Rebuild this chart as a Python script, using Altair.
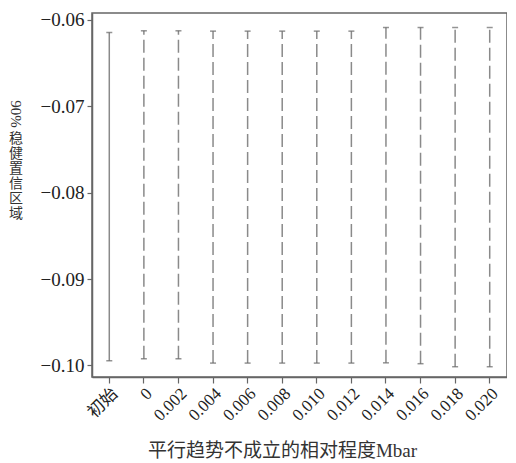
import altair as alt
import pandas as pd

categories = ["初始", "0", "0.002", "0.004", "0.006", "0.008", "0.010",
              "0.012", "0.014", "0.016", "0.018", "0.020"]
upper = [-0.06146, -0.06126, -0.06126, -0.0613, -0.0613, -0.0613, -0.0613,
         -0.0613, -0.06088, -0.06088, -0.06088, -0.06088]
lower = [-0.09946, -0.09923, -0.09923, -0.09973, -0.09973, -0.09973, -0.09973,
         -0.09973, -0.0997, -0.0998, -0.10015, -0.10015]
styles = ["solid"] + ["dashed"] * 11
y_ticks = [-0.06, -0.07, -0.08, -0.09, -0.10]
y_title_rot = "90%"
y_title_chars = ["稳", "健", "置", "信", "区", "域"]
x_title = "平行趋势不成立的相对程度Mbar"

df = pd.DataFrame({"cat": categories, "lo": lower, "hi": upper, "style": styles})

SERIF = "Liberation Serif"
FONT = "Liberation Serif, Noto Sans CJK SC"

x_enc = alt.X(
    "cat:N",
    sort=categories,
    scale=alt.Scale(paddingInner=0, paddingOuter=0),
    axis=alt.Axis(
        title=x_title,
        labelAngle=-45,
        labelAlign="right",
        labelBaseline="top",
        labelPadding=2,
        labelFont=FONT,
        labelFontSize=17,
        labelColor="#222",
        tickSize=6,
        tickColor="#666",
        tickWidth=1.2,
        domainColor="#666",
        domainWidth=1.5,
        titleFont=FONT,
        titleFontSize=19,
        titleFontWeight="normal",
        titleColor="#333",
        titleX=190,
        titleY=79,
        titleBaseline="alphabetic",
        titleAlign="center",
    ),
)

y_scale = alt.Scale(domain=[-0.10134, -0.0592], nice=False, zero=False)
y_axis = alt.Axis(
    title=None,
    values=y_ticks,
    format=".2f",
    grid=False,
    labelFont=SERIF,
    labelFontSize=19,
    labelColor="#222",
    labelPadding=3,
    tickSize=5,
    tickColor="#666",
    tickWidth=1.2,
    domainColor="#666",
    domainWidth=1.5,
)

base = alt.Chart(df)

rules = base.mark_rule(color="#8a8a8a", strokeWidth=1.5).encode(
    x=x_enc,
    y=alt.Y("lo:Q", scale=y_scale, axis=y_axis),
    y2="hi:Q",
    strokeDash=alt.StrokeDash(
        "style:N",
        scale=alt.Scale(domain=["solid", "dashed"], range=[[1, 0], [13, 5]]),
        legend=None,
    ),
)

cap_lo = base.mark_tick(size=6, thickness=1.5, color="#666").encode(
    x=alt.X("cat:N", sort=categories), y=alt.Y("lo:Q")
)
cap_hi = base.mark_tick(size=6, thickness=1.5, color="#666").encode(
    x=alt.X("cat:N", sort=categories), y=alt.Y("hi:Q")
)

t1 = alt.Chart(pd.DataFrame({"t": [y_title_rot]})).mark_text(
    angle=90, font=SERIF, fontSize=15, color="#333", align="center", baseline="middle"
).encode(x=alt.value(-76), y=alt.value(101), text="t:N")

t2 = alt.Chart(pd.DataFrame({"t": [0]})).mark_text(
    font=FONT, fontSize=14, lineHeight=15, color="#333",
    align="center", baseline="top"
).encode(x=alt.value(-76), y=alt.value(119), text=alt.value(y_title_chars))

chart = alt.layer(rules, cap_lo, cap_hi, t1, t2).properties(
    width=415,
    height=364,
    padding={"left": 0, "top": 2, "right": 0, "bottom": 0},
    background="white",
).configure_view(stroke="#666", strokeWidth=1.5)

chart.save("out.html", embed_options={"renderer": "svg", "actions": False})
